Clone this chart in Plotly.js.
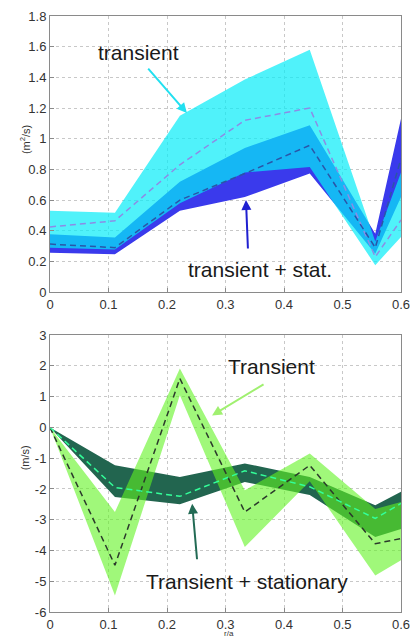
<!DOCTYPE html>
<html>
<head>
<meta charset="utf-8">
<script src="https://cdn.plot.ly/plotly-3.0.1.min.js"></script>
<style>html,body{margin:0;padding:0;background:#fff;}#chart{width:410px;height:636px;}</style>
</head>
<body>
<div id="chart"></div>
<script>
// ---- data ----
const rPos = [0, 0.111, 0.222, 0.333, 0.444, 0.556, 0.6];

// top panel (m^2/s)
const transUpper = [0.53, 0.517, 1.15, 1.386, 1.58, 0.33, 0.78];
const transLower = [0.29, 0.278, 0.58, 0.78, 0.816, 0.176, 0.36];
const transMean  = [0.425, 0.465, 0.83, 1.12, 1.20, 0.23, 0.47];
const statUpper  = [0.378, 0.356, 0.72, 0.94, 1.088, 0.38, 1.13];
const statLower  = [0.256, 0.247, 0.53, 0.62, 0.773, 0.25, 0.62];
const statMean   = [0.313, 0.29, 0.60, 0.773, 0.957, 0.29, 0.87];

// bottom panel (m/s)
const vTransUpper = [0, -2.75, 1.92, -2.04, -0.85, -2.65, -2.42];
const vTransLower = [0, -5.46, 1.05, -3.89, -1.75, -4.81, -4.32];
const vTransMean  = [0, -4.48, 1.59, -2.75, -1.23, -3.78, -3.61];
const vStatUpper  = [0, -1.23, -1.61, -1.17, -1.61, -2.53, -2.09];
const vStatLower  = [0, -2.26, -2.50, -1.77, -2.20, -3.56, -3.30];
const vStatMean   = [0, -1.95, -2.24, -1.41, -1.93, -2.96, -2.47];

// tick labels
const xTicks = [0, 0.1, 0.2, 0.3, 0.4, 0.5, 0.6];
const xTickText = ["0", "0.1", "0.2", "0.3", "0.4", "0.5", "0.6"];
const yTopTicks = [0, 0.2, 0.4, 0.6, 0.8, 1, 1.2, 1.4, 1.6, 1.8];
const yTopText = ["0", "0.2", "0.4", "0.6", "0.8", "1", "1.2", "1.4", "1.6", "1.8"];
const yBotTicks = [-6, -5, -4, -3, -2, -1, 0, 1, 2, 3];
const yBotText = ["-6", "-5", "-4", "-3", "-2", "-1", "0", "1", "2", "3"];

// ---- traces ----
const FONT = "Arial, 'Liberation Sans', sans-serif";
function band(lower, upper, color, xa, ya) {
  return [
    {x: rPos, y: lower, xaxis: xa, yaxis: ya, mode: 'lines', line: {width: 0, color: color}, hoverinfo: 'skip', showlegend: false},
    {x: rPos, y: upper, xaxis: xa, yaxis: ya, mode: 'lines', line: {width: 0, color: color}, fill: 'tonexty', fillcolor: color, hoverinfo: 'skip', showlegend: false}
  ];
}
function dashed(y, color, xa, ya) {
  return {x: rPos, y: y, xaxis: xa, yaxis: ya, mode: 'lines', line: {color: color, width: 1.5, dash: '6px,4px'}, hoverinfo: 'skip', showlegend: false};
}

const traces = [].concat(
  band(statLower, statUpper, '#3A3AEC', 'x', 'y'),
  band(transLower, transUpper, 'rgba(5,236,248,0.7)', 'x', 'y'),
  [dashed(transMean, '#8C8CE6', 'x', 'y'), dashed(statMean, '#2A55A8', 'x', 'y')],
  band(vStatLower, vStatUpper, '#22654F', 'x2', 'y2'),
  band(vTransLower, vTransUpper, 'rgba(97,243,33,0.6)', 'x2', 'y2'),
  [dashed(vTransMean, '#2B3A2B', 'x2', 'y2'), dashed(vStatMean, '#33FF99', 'x2', 'y2')]
);

const axisCommon = {
  showline: true, mirror: true, linecolor: '#8a8a8a', linewidth: 1,
  showgrid: true, gridcolor: '#c8c8c8', griddash: 'dot', gridwidth: 1,
  zeroline: false, ticks: 'inside', ticklen: 4, tickcolor: '#8a8a8a',
  ticklabeloverflow: 'allow',
  tickfont: {family: FONT, size: 13, color: '#333'}
};

const layout = {
  width: 410, height: 636,
  margin: {l: 50, r: 9, t: 16, b: 24},
  paper_bgcolor: '#fff', plot_bgcolor: '#fff',
  showlegend: false,
  xaxis: Object.assign({}, axisCommon, {domain: [0, 1], anchor: 'y', range: [0, 0.6], tickvals: xTicks, ticktext: xTickText}),
  yaxis: Object.assign({}, axisCommon, {domain: [0.5367, 1], anchor: 'x', range: [0, 1.8], tickvals: yTopTicks, ticktext: yTopText}),
  xaxis2: Object.assign({}, axisCommon, {domain: [0, 1], anchor: 'y2', range: [0, 0.6], tickvals: xTicks, ticktext: xTickText}),
  yaxis2: Object.assign({}, axisCommon, {domain: [0, 0.4645], anchor: 'x2', range: [-6, 3], tickvals: yBotTicks, ticktext: yBotText}),
  annotations: [
    {xref: 'paper', yref: 'paper', x: -0.071, y: 0.792, xanchor: 'center', yanchor: 'middle', text: '(m<sup>2</sup>/s)', textangle: -90, showarrow: false,
     font: {family: FONT, size: 11, color: '#333'}},
    {xref: 'paper', yref: 'paper', x: -0.071, y: 0.258, xanchor: 'center', yanchor: 'middle', text: '(m/s)', textangle: -90, showarrow: false,
     font: {family: FONT, size: 11, color: '#333'}},
    {xref: 'paper', yref: 'paper', x: 0.51, y: -0.0252, xanchor: 'center', yanchor: 'top', text: 'r/a', showarrow: false,
     font: {family: FONT, size: 8, color: '#333'}},
    {xref: 'x', yref: 'y', x: 0.152, y: 1.565, text: 'transient', showarrow: false,
     font: {family: FONT, size: 21, color: '#1a1a1a'}},
    {xref: 'x', yref: 'y', x: 0.359, y: 0.15, text: 'transient + stat.', showarrow: false,
     font: {family: FONT, size: 21, color: '#1a1a1a'}},
    {xref: 'x', yref: 'y', x: 0.234, y: 1.167, ax: -40, ay: -46, text: '', showarrow: true,
     arrowhead: 2, arrowsize: 1, arrowwidth: 2, arrowcolor: '#22E0F0'},
    {xref: 'x', yref: 'y', x: 0.335, y: 0.60, ax: 2, ay: 50, text: '', showarrow: true,
     arrowhead: 2, arrowsize: 1, arrowwidth: 2, arrowcolor: '#2020D0'},
    {xref: 'x2', yref: 'y2', x: 0.379, y: 1.99, text: 'Transient', showarrow: false,
     font: {family: FONT, size: 21, color: '#1a1a1a'}},
    {xref: 'x2', yref: 'y2', x: 0.337, y: -5.0, text: 'Transient + stationary', showarrow: false,
     font: {family: FONT, size: 21, color: '#1a1a1a'}},
    {xref: 'x2', yref: 'y2', x: 0.277, y: 0.39, ax: 53, ay: -32, text: '', showarrow: true,
     arrowhead: 2, arrowsize: 1, arrowwidth: 2, arrowcolor: '#A0F070'},
    {xref: 'x2', yref: 'y2', x: 0.243, y: -2.48, ax: 5, ay: 57, text: '', showarrow: true,
     arrowhead: 2, arrowsize: 1, arrowwidth: 2, arrowcolor: '#236B55'}
  ]
};

Plotly.newPlot('chart', traces, layout, {staticPlot: true, displayModeBar: false});
</script>
</body>
</html>
